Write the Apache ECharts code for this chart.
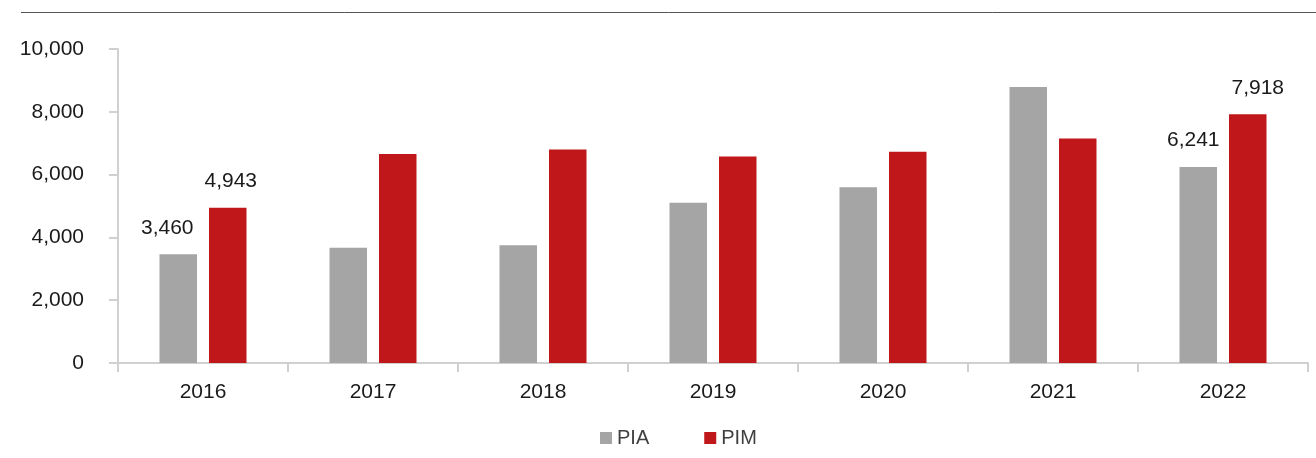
<!DOCTYPE html>
<html>
<head>
<meta charset="utf-8">
<script src="https://cdn.jsdelivr.net/npm/echarts@6/dist/echarts.min.js"></script>
<style>
  html, body { margin: 0; padding: 0; background: #fff; }
  #main { width: 1316px; height: 458px; }
</style>
</head>
<body>
<div id="main"></div>
<script>
const years = ['2016', '2017', '2018', '2019', '2020', '2021', '2022'];
const piaValues = [3460, 3670, 3750, 5100, 5600, 8790, 6241];
const pimValues = [4943, 6660, 6800, 6580, 6730, 7150, 7918];
const yTicks = [0, 2000, 4000, 6000, 8000, 10000];
// only these points carry a value label in the original
const labelledIdx = [0, 6];
const piaLabelShift = [-11, 0, 0, 0, 0, 0, -5];
const pimLabelShift = [3, 0, 0, 0, 0, 0, 10];

const fmt = v => Number(v).toLocaleString('en-US');

function withLabels(values, shift) {
  return values.map(function (v, i) {
    if (labelledIdx.indexOf(i) < 0) return v;
    return { value: v, label: { show: true, offset: [shift[i], 0] } };
  });
}

let myChart = echarts.init(document.getElementById('main'));
myChart.setOption({
  animation: false,
  textStyle: { fontFamily: 'Liberation Sans, Arial, sans-serif' },
  color: ['#A5A5A5', '#C0181A'],
  grid: { left: 118, right: 8, top: 49, bottom: 95 },
  graphic: [{
    type: 'line',
    shape: { x1: 21, y1: 12.5, x2: 1316, y2: 12.5 },
    style: { stroke: '#555555', lineWidth: 1 }
  }],
  legend: {
    left: 595,
    top: 423,
    icon: 'rect',
    itemWidth: 12,
    itemHeight: 12,
    itemGap: 55,
    textStyle: { fontSize: 20, color: '#404040', fontFamily: 'Liberation Sans, Arial, sans-serif' },
    data: ['PIA', 'PIM']
  },
  xAxis: {
    type: 'category',
    data: years,
    axisLine: { lineStyle: { color: '#D0D0D0', width: 2 } },
    axisTick: { show: true, length: 9, lineStyle: { color: '#D0D0D0', width: 2 } },
    axisLabel: { fontSize: 21, color: '#1a1a1a', margin: 19 }
  },
  yAxis: {
    type: 'value',
    min: yTicks[0],
    max: yTicks[yTicks.length - 1],
    interval: yTicks[1] - yTicks[0],
    splitLine: { show: false },
    axisLine: { show: true, lineStyle: { color: '#D0D0D0', width: 2 } },
    axisTick: { show: true, length: 9, lineStyle: { color: '#D0D0D0', width: 2 } },
    axisLabel: { fontSize: 21, color: '#1a1a1a', margin: 34, padding: [6, 0, 0, 0], formatter: fmt }
  },
  series: [
    {
      name: 'PIA',
      type: 'bar',
      barWidth: 37.5,
      barGap: '32%',
      data: withLabels(piaValues, piaLabelShift),
      label: {
        show: false,
        position: 'top',
        distance: 16,
        fontSize: 21,
        color: '#1a1a1a',
        formatter: p => fmt(p.value)
      }
    },
    {
      name: 'PIM',
      type: 'bar',
      barWidth: 37.5,
      barGap: '32%',
      data: withLabels(pimValues, pimLabelShift),
      label: {
        show: false,
        position: 'top',
        distance: 16,
        fontSize: 21,
        color: '#1a1a1a',
        formatter: p => fmt(p.value)
      }
    }
  ]
});
</script>
</body>
</html>
